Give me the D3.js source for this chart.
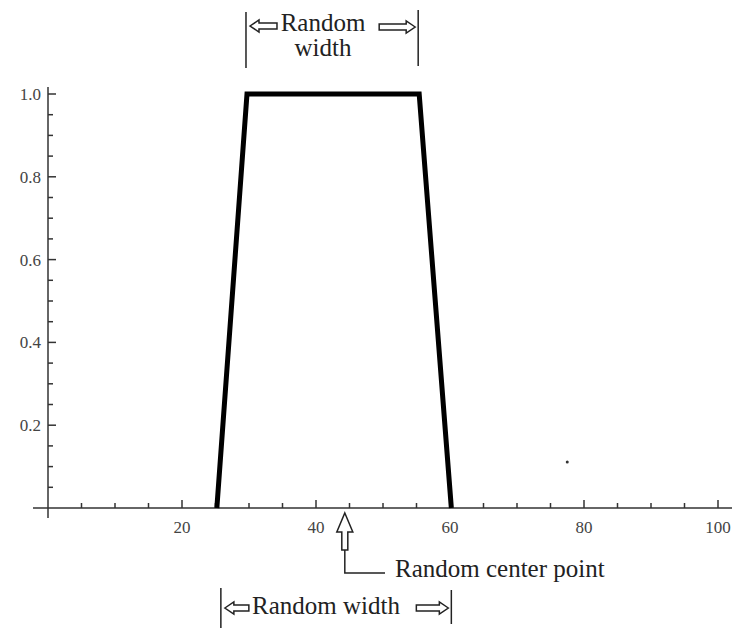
<!DOCTYPE html>
<html>
<head>
<meta charset="utf-8">
<script src="https://cdn.jsdelivr.net/npm/d3@7"></script>
<style>
  body { margin: 0; background: #fff; }
  svg { display: block; }
  .tick-label { font-family: "Liberation Serif", serif; font-size: 17px; fill: #444; }
  .note { font-family: "Liberation Serif", serif; font-size: 25px; fill: #222; }
</style>
</head>
<body>
<div class="container"></div>
<script>
// trapezoid membership shape
const shapeX = [25.2, 29.7, 55.4, 60.2]
const shapeY = [0, 1, 1, 0]

const xTicks = [20, 40, 60, 80, 100]
const yTicks = [0.2, 0.4, 0.6, 0.8, 1.0]
const xMinor = d3.range(5, 100, 5).filter(d => d % 20 != 0)
const yMinor = d3.range(0.05, 1.0, 0.05).filter(d => Math.round(d * 100) % 20 != 0)

// annotation anchors (data units)
const topWidth = [29.7, 55.4]
const bottomWidth = [25.8, 60.2]
const centerPoint = 44.3
const strayDot = [77.5, 0.111]

let width = 732
let height = 628

let xScale = d3.scaleLinear().domain([0, 100]).range([48, 718])
let yScale = d3.scaleLinear().domain([0, 1]).range([508, 94])

let svg = d3.select('.container')
    .append('svg')
    .attr('width', width)
    .attr('height', height)

let axisColor = '#333'

// axes lines
svg.append('line')
    .attr('x1', 33).attr('x2', 732)
    .attr('y1', yScale(0)).attr('y2', yScale(0))
    .attr('stroke', axisColor).attr('stroke-width', 1.5)
svg.append('line')
    .attr('x1', xScale(0)).attr('x2', xScale(0))
    .attr('y1', 87).attr('y2', 518)
    .attr('stroke', axisColor).attr('stroke-width', 1.5)

// x ticks point up into the plot
let xAll = xTicks.map(d => ({ v: d, major: true })).concat(xMinor.map(d => ({ v: d, major: false })))
svg.selectAll('.xtick')
    .data(xAll)
    .enter()
    .append('line')
    .attr('x1', d => xScale(d.v)).attr('x2', d => xScale(d.v))
    .attr('y1', yScale(0))
    .attr('y2', d => yScale(0) - (d.major ? 8 : 5))
    .attr('stroke', axisColor).attr('stroke-width', 1.5)

svg.selectAll('.xlabel')
    .data(xTicks)
    .enter()
    .append('text')
    .attr('class', 'tick-label')
    .attr('x', d => xScale(d))
    .attr('y', yScale(0) + 25)
    .attr('text-anchor', 'middle')
    .text(d => d)

let yAll = yTicks.map(d => ({ v: d, major: true })).concat(yMinor.map(d => ({ v: d, major: false })))
svg.selectAll('.ytick')
    .data(yAll)
    .enter()
    .append('line')
    .attr('x1', xScale(0))
    .attr('x2', d => xScale(0) + (d.major ? 8 : 5))
    .attr('y1', d => yScale(d.v)).attr('y2', d => yScale(d.v))
    .attr('stroke', axisColor).attr('stroke-width', 1.5)

svg.selectAll('.ylabel')
    .data(yTicks)
    .enter()
    .append('text')
    .attr('class', 'tick-label')
    .attr('x', 41)
    .attr('y', d => yScale(d) + 6)
    .attr('text-anchor', 'end')
    .text(d => d.toFixed(1))

// the shape
let line = d3.line()
    .x(d => xScale(d[0]))
    .y(d => yScale(d[1]))

svg.append('path')
    .datum(d3.zip(shapeX, shapeY))
    .attr('d', line)
    .attr('fill', 'none')
    .attr('stroke', '#000')
    .attr('stroke-width', 5)
    .attr('stroke-linejoin', 'miter')

svg.append('circle')
    .attr('cx', xScale(strayDot[0]))
    .attr('cy', yScale(strayDot[1]))
    .attr('r', 1.5)
    .attr('fill', '#333')

// hollow arrow, tip at (x,y), dir: 1 = right, -1 = left
function hArrow(x, y, len, dir) {
    let hl = 9, hh = 6, bh = 3
    let b = x - dir * hl
    let t = x - dir * len
    let p = [[x, y], [b, y - hh], [b, y - bh], [t, y - bh], [t, y + bh], [b, y + bh], [b, y + hh]]
    svg.append('path')
        .attr('d', 'M' + p.join('L') + 'Z')
        .attr('fill', '#fff')
        .attr('stroke', '#222')
        .attr('stroke-width', 1.5)
}

function vBar(x, y1, y2) {
    svg.append('line')
        .attr('x1', x).attr('x2', x)
        .attr('y1', y1).attr('y2', y2)
        .attr('stroke', '#222').attr('stroke-width', 1.5)
}

// top "Random width"
let tL = xScale(topWidth[0]) - 1
let tR = xScale(topWidth[1]) - 1
vBar(tL, 12, 68)
vBar(tR, 10, 66)
hArrow(tL + 4, 26, 27, -1)
hArrow(tR - 3, 27, 36, 1)
svg.append('text').attr('class', 'note')
    .attr('x', 323).attr('y', 31)
    .attr('text-anchor', 'middle').text('Random')
svg.append('text').attr('class', 'note')
    .attr('x', 323).attr('y', 56)
    .attr('text-anchor', 'middle').text('width')

// center point arrow
let cx = xScale(centerPoint)
let tipY = 513
let upPts = [[cx, tipY], [cx + 8, tipY + 19], [cx + 3, tipY + 19], [cx + 3, tipY + 37],
    [cx - 3, tipY + 37], [cx - 3, tipY + 19], [cx - 8, tipY + 19]]
svg.append('path')
    .attr('d', 'M' + upPts.join('L') + 'Z')
    .attr('fill', '#fff')
    .attr('stroke', '#222')
    .attr('stroke-width', 1.5)
svg.append('path')
    .attr('d', `M${cx},${tipY + 37}L${cx},573L385,573`)
    .attr('fill', 'none')
    .attr('stroke', '#222')
    .attr('stroke-width', 1.5)
svg.append('text').attr('class', 'note')
    .attr('x', 395).attr('y', 577)
    .text('Random center point')

// bottom "Random width"
let bL = xScale(bottomWidth[0])
let bR = xScale(bottomWidth[1])
vBar(bL, 588, 628)
vBar(bR, 590, 624)
hArrow(bL + 4, 608, 24, -1)
hArrow(bR - 3, 608, 32, 1)
svg.append('text').attr('class', 'note')
    .attr('x', 252).attr('y', 614)
    .text('Random width')
</script>
</body>
</html>
